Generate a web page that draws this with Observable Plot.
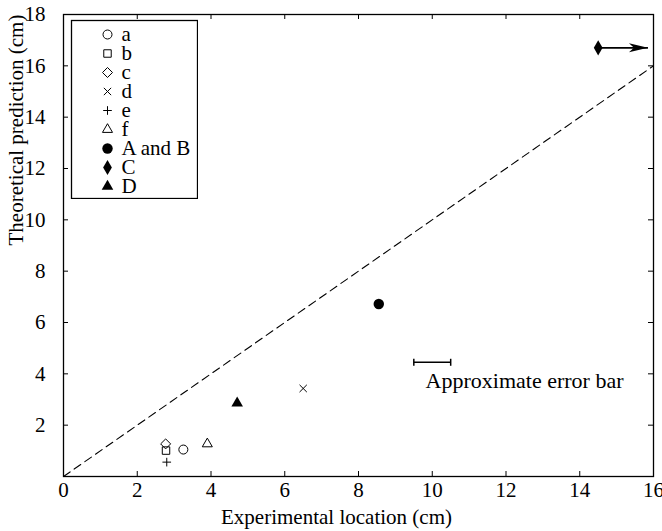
<!DOCTYPE html>
<html><head><meta charset="utf-8">
<script src="https://cdn.jsdelivr.net/npm/d3@7"></script>
<script src="https://cdn.jsdelivr.net/npm/@observablehq/plot@0.6"></script>
<style>
body{margin:0;background:#fff;}
#wrap{position:relative;width:662px;height:531px;}
#legend{position:absolute;left:70px;top:19px;}
</style></head><body><div id="wrap"><div id="legend"></div></div>
<script>
// ---- data ----
const seriesNames = ["a", "b", "c", "d", "e", "f", "A and B", "C", "D"];
const expLocation = [3.25, 2.78, 2.77, 6.5, 2.8, 3.9, 8.55, 14.5, 4.71];
const theoPrediction = [1.05, 1.01, 1.27, 3.43, 0.56, 1.27, 6.72, 16.7, 2.86];
const arrowC = {x1: 14.5, x2: 15.85, y: 16.7};
const errorBar = {x1: 9.5, x2: 10.5, y: 4.45};
const errorLabel = {x: 9.82, y: 3.72, text: "Approximate error bar"};
const parityLine = [[0, 0], [16, 16]];
const xTicks = [0, 2, 4, 6, 8, 10, 12, 14, 16];
const yTicks = [0, 2, 4, 6, 8, 10, 12, 14, 16, 18];
const yTickLabels = [2, 4, 6, 8, 10, 12, 14, 16, 18];
const xLabel = "Experimental location (cm)";
const yLabel = "Theoretical prediction (cm)";

// ---- styles ----
const markerStyle = {
  "a": {symbol: "circle", r: 4.5, filled: false},
  "b": {symbol: "square", r: 4.2, filled: false},
  "c": {symbol: "diamond2", r: 4.5, filled: false},
  "d": {symbol: "times", r: 3.4, filled: false},
  "e": {symbol: "plus", r: 2.9, filled: false},
  "f": {symbol: "triangle2", r: 4.8, filled: false},
  "A and B": {symbol: "circle", r: 5.2, filled: true},
  "C": {symbol: "diamond", r: 4.6, filled: true},
  "D": {symbol: "triangle", r: 4.3, filled: true}
};
const rows = seriesNames.map((name, i) => ({name, x: expLocation[i], y: theoPrediction[i]}));

const arrowHead = {draw(ctx) { ctx.moveTo(0, 0); ctx.lineTo(-19, -4.5); ctx.lineTo(-14, 0); ctx.lineTo(-19, 4.5); ctx.closePath(); }};
const capSymbol = {draw(ctx) { ctx.moveTo(0, -3.5); ctx.lineTo(0, 3.5); }};

function seriesMarks(data, opts) {
  return seriesNames.map(n => {
    const s = markerStyle[n];
    return Plot.dot(data.filter(d => d.name === n), {
      ...opts,
      symbol: s.symbol, r: s.r,
      fill: s.filled ? "black" : "none",
      stroke: s.filled ? "none" : "black",
      strokeWidth: 1
    });
  });
}

const W = 662, H = 531, mL = 63, mR = 9, mT = 14, mB = 55;
const innerW = W - mL - mR, innerH = H - mT - mB, tick = 5;
const font = "'Liberation Serif', 'Times New Roman', serif";
const fs = 21;

const chart = Plot.plot({
  width: W, height: H,
  marginLeft: mL, marginRight: mR, marginTop: mT, marginBottom: mB,
  style: {fontFamily: font, fontSize: fs + "px", color: "black", background: "white", overflow: "visible"},
  x: {domain: [0, 16]},
  y: {domain: [0, 18]},
  marks: [
    Plot.line(parityLine, {x: d => d[0], y: d => d[1], stroke: "black", strokeWidth: 1.1, strokeDasharray: "8,5"}),
    Plot.tickX(xTicks, {x: d => d, insetTop: innerH - tick, stroke: "black"}),
    Plot.tickX(xTicks, {x: d => d, insetBottom: innerH - tick, stroke: "black"}),
    Plot.tickY(yTicks, {y: d => d, insetRight: innerW - tick, stroke: "black"}),
    Plot.tickY(yTicks, {y: d => d, insetLeft: innerW - tick, stroke: "black"}),
    Plot.axisX({ticks: xTicks, tickSize: 0, tickPadding: 6, label: null, fontSize: fs, tickFormat: d => String(d)}),
    Plot.axisY({ticks: yTickLabels, tickSize: 0, tickPadding: 18, label: null, fontSize: fs, tickFormat: d => String(d)}),
    Plot.text([xLabel], {text: d => d, frameAnchor: "bottom", dx: -22, dy: 41, lineAnchor: "middle", fill: "black", fontSize: fs}),
    Plot.text([yLabel], {text: d => d, frameAnchor: "left", dx: -47, rotate: -90, lineAnchor: "middle", fill: "black", fontSize: fs}),
    // error bar
    Plot.link([errorBar], {x1: "x1", x2: "x2", y1: "y", y2: "y", stroke: "black", strokeWidth: 1.5}),
    Plot.dot([errorBar.x1, errorBar.x2], {x: d => d, y: () => errorBar.y, symbol: capSymbol, stroke: "black", strokeWidth: 1.5, r: 3}),
    Plot.text([errorLabel], {x: "x", y: "y", text: "text", textAnchor: "start", fill: "black", fontSize: 22}),
    // arrow from C
    Plot.link([arrowC], {x1: "x1", x2: "x2", y1: "y", y2: "y", stroke: "black", strokeWidth: 1.6}),
    Plot.dot([arrowC], {x: "x2", y: "y", symbol: arrowHead, fill: "black", r: 3}),
    ...seriesMarks(rows, {x: "x", y: "y"}),
    Plot.frame({stroke: "black", strokeWidth: 1.3})
  ]
});
document.getElementById("wrap").prepend(chart);
chart.style.position = "absolute"; chart.style.left = "0"; chart.style.top = "0";

// legend as a small Plot overlay
const legend = Plot.plot({
  width: 128, height: 180, margin: 1,
  style: {fontFamily: font, fontSize: fs + "px", color: "black", background: "white"},
  y: {type: "point", domain: seriesNames, range: [15, 167], padding: 0, axis: null},
  x: {axis: null},
  marks: [
    ...seriesMarks(rows, {y: "name", frameAnchor: "left", dx: 36}),
    Plot.text(rows, {y: "name", text: "name", frameAnchor: "left", dx: 50, textAnchor: "start", fill: "black", fontSize: fs}),
    Plot.frame({stroke: "black", strokeWidth: 1.3})
  ]
});
document.getElementById("legend").append(legend);
</script></body></html>
